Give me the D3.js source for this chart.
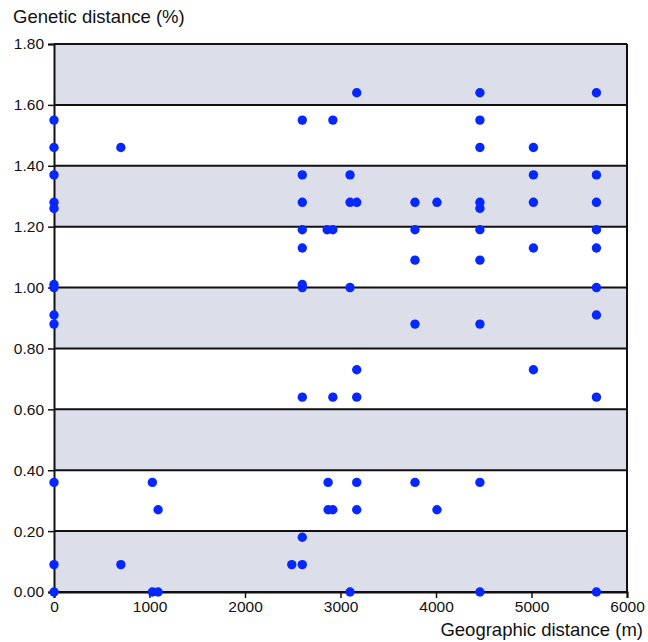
<!DOCTYPE html>
<html>
<head>
<meta charset="utf-8">
<script src="https://cdn.jsdelivr.net/npm/d3@7"></script>
<style>
  body { margin: 0; background: #fff; }
  text { font-family: "Liberation Sans", Arial, sans-serif; fill: #111; }
</style>
</head>
<body>
<script>
// geographic distance (m) and genetic distance (%) for every pair
var distM = [
  0, 0, 0, 0, 0, 0, 0, 0, 0, 0, 0, 0,
  700, 700,
  1030, 1030, 1090, 1090,
  2490,
  2600, 2600, 2600, 2600, 2600, 2600, 2600, 2600, 2600, 2600,
  2860, 2870, 2870,
  2920, 2920, 2920, 2920,
  3100, 3100, 3100, 3100,
  3170, 3170, 3170, 3170, 3170, 3170,
  3780, 3780, 3780, 3780, 3780,
  4010, 4010,
  4460, 4460, 4460, 4460, 4460, 4460, 4460, 4460, 4460, 4460,
  5020, 5020, 5020, 5020, 5020,
  5680, 5680, 5680, 5680, 5680, 5680, 5680, 5680, 5680
];
var genPct = [
  1.55, 1.46, 1.37, 1.28, 1.26, 1.01, 1.00, 0.91, 0.88, 0.36, 0.09, 0.00,
  1.46, 0.09,
  0.36, 0.00, 0.27, 0.00,
  0.09,
  1.55, 1.37, 1.28, 1.19, 1.13, 1.01, 1.00, 0.64, 0.18, 0.09,
  1.19, 0.36, 0.27,
  1.55, 1.19, 0.64, 0.27,
  1.37, 1.28, 1.00, 0.00,
  1.64, 1.28, 0.73, 0.64, 0.36, 0.27,
  1.28, 1.19, 1.09, 0.88, 0.36,
  1.28, 0.27,
  1.64, 1.55, 1.46, 1.28, 1.26, 1.19, 1.09, 0.88, 0.36, 0.00,
  1.46, 1.37, 1.28, 1.13, 0.73,
  1.64, 1.37, 1.28, 1.19, 1.13, 1.00, 0.91, 0.64, 0.00
];
var xTicks = [0, 1000, 2000, 3000, 4000, 5000, 6000];
var yTicks = [0, 0.2, 0.4, 0.6, 0.8, 1.0, 1.2, 1.4, 1.6, 1.8];
var bandStarts = [0, 0.4, 0.8, 1.2, 1.6];

var margin = {top: 44, right: 21, bottom: 50, left: 54};
var width = 648, height = 642;

var x = d3.scaleLinear().domain([0, 6000]).range([margin.left, width - margin.right]);
var y = d3.scaleLinear().domain([0, 1.8]).range([height - margin.bottom, margin.top]);

var svg = d3.select("body").append("svg")
  .attr("width", width)
  .attr("height", height);

// shaded bands
svg.selectAll("rect.band")
  .data(bandStarts)
  .enter()
  .append("rect")
  .attr("class", "band")
  .attr("x", x(0))
  .attr("width", x(6000) - x(0))
  .attr("y", function (d) { return y(d + 0.2); })
  .attr("height", function (d) { return y(d) - y(d + 0.2); })
  .attr("fill", "#dcdeea");

// horizontal grid lines
svg.selectAll("line.grid")
  .data(yTicks)
  .enter()
  .append("line")
  .attr("class", "grid")
  .attr("x1", x(0)).attr("x2", x(6000))
  .attr("y1", function (d) { return y(d); })
  .attr("y2", function (d) { return y(d); })
  .attr("stroke", "#111")
  .attr("stroke-width", 2);

// right border
svg.append("line")
  .attr("x1", x(6000)).attr("x2", x(6000))
  .attr("y1", y(0)).attr("y2", y(1.8))
  .attr("stroke", "#111")
  .attr("stroke-width", 2);

// axes
var xAxis = svg.append("g")
  .attr("transform", "translate(0," + y(0) + ")")
  .call(d3.axisBottom(x).tickValues(xTicks).tickFormat(d3.format("d")).tickSize(6).tickPadding(3));

var yAxis = svg.append("g")
  .attr("transform", "translate(" + x(0) + ",0)")
  .call(d3.axisLeft(y).tickValues(yTicks).tickFormat(d3.format(".2f")).tickSize(6).tickPadding(4));

[xAxis, yAxis].forEach(function (g) {
  g.select(".domain").attr("stroke", "#111").attr("stroke-width", 2);
  g.selectAll(".tick line").attr("stroke", "#111").attr("stroke-width", 1.5);
  g.selectAll("text").style("font-size", "15.5px").attr("fill", "#111");
});

// points
var points = distM.map(function (d, i) { return [d, genPct[i]]; });
svg.selectAll("circle")
  .data(points)
  .enter()
  .append("circle")
  .attr("cx", function (d) { return x(d[0]); })
  .attr("cy", function (d) { return y(d[1]); })
  .attr("r", 4.7)
  .attr("fill", "#0628ff");

// titles
svg.append("text")
  .attr("x", 13)
  .attr("y", 23)
  .style("font-size", "18.5px")
  .text("Genetic distance (%)");

svg.append("text")
  .attr("x", 643)
  .attr("y", 636)
  .attr("text-anchor", "end")
  .style("font-size", "18.5px")
  .text("Geographic distance (m)");
</script>
</body>
</html>
